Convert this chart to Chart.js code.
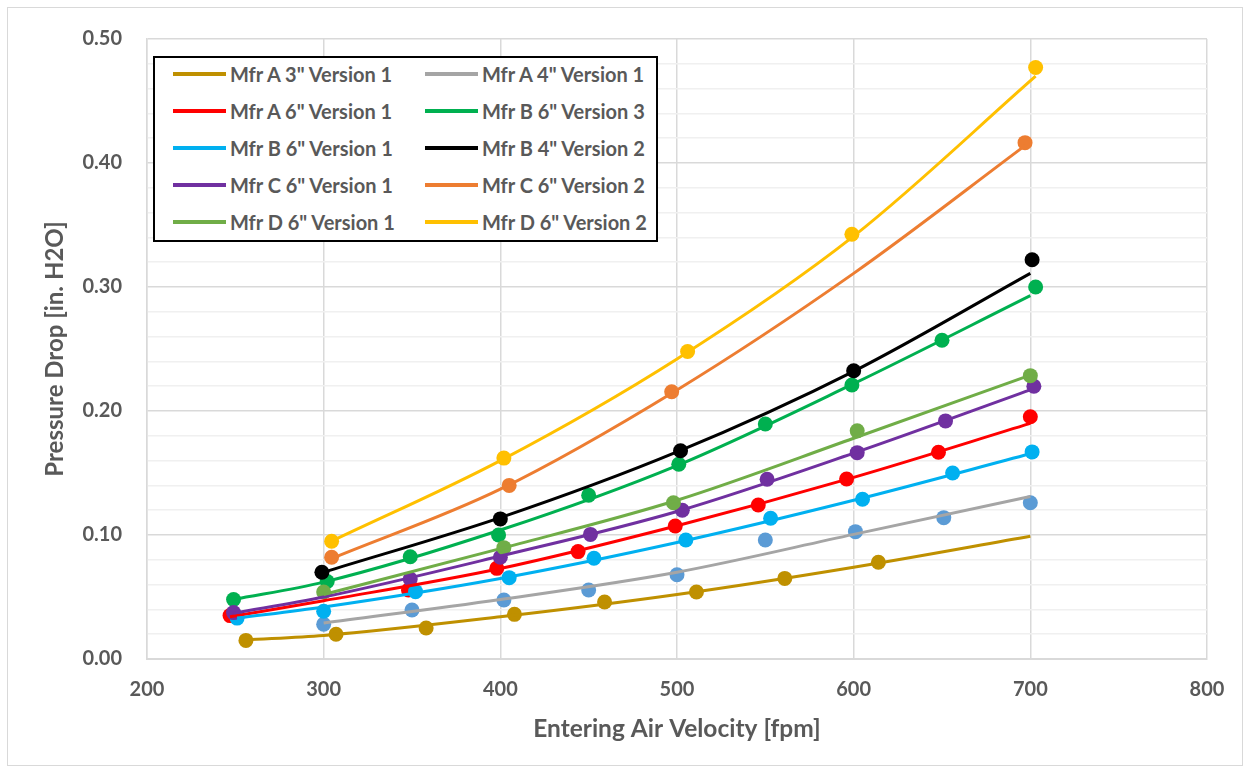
<!DOCTYPE html>
<html>
<head>
<meta charset="utf-8">
<script src="https://cdn.jsdelivr.net/npm/chart.js@4"></script>
<style>
  body { margin: 0; background: #fff; }
  #wrap { position: relative; width: 1250px; height: 773px; }
  #legend {
    position: absolute; left: 153px; top: 56px; width: 501px; height: 182px;
    border: 2px solid #000; background: #fff;
    font-family: Lato, "Open Sans", sans-serif; font-weight: bold; font-size: 20px; color: #595959;
  }
  .item { position: absolute; height: 22px; line-height: 22px; white-space: nowrap; }
  .item span.swatch { position: absolute; left: 0; top: 9px; width: 53px; height: 4px; }
  .item span.label { position: absolute; left: 57px; top: 0; }
</style>
</head>
<body>
<div id="wrap">
  <canvas id="chart" width="1250" height="773"></canvas>
  <div id="legend"></div>
</div>
<script>
const seriesNames = [
  'Mfr A 3" Version 1', 'Mfr A 4" Version 1', 'Mfr A 6" Version 1', 'Mfr B 6" Version 3',
  'Mfr B 6" Version 1', 'Mfr B 4" Version 2', 'Mfr C 6" Version 1', 'Mfr C 6" Version 2',
  'Mfr D 6" Version 1', 'Mfr D 6" Version 2'
];
const lineColors = ['#BF9000', '#A5A5A5', '#FF0000', '#00B050', '#00B0F0', '#000000', '#7030A0', '#ED7D31', '#70AD47', '#FFC000'];
const markerColors = ['#BF9000', '#5B9BD5', '#FF0000', '#00B050', '#00B0F0', '#000000', '#7030A0', '#ED7D31', '#70AD47', '#FFC000'];

// measured points (fpm, in. H2O)
const pointX = [
  [256, 307, 358, 408, 459, 511, 561, 614],
  [300, 350, 402, 450, 500, 550, 601, 651, 700],
  [247, 348, 398, 444, 499, 546, 596, 648, 700],
  [249, 302, 349, 399, 450, 501, 550, 599, 650, 703],
  [251, 300, 352, 405, 453, 505, 553, 605, 656, 701],
  [299, 400, 502, 600, 701],
  [249, 349, 400, 451, 503, 551, 602, 652, 702],
  [304.5, 405, 497, 697],
  [300, 402, 498, 602, 700],
  [304.5, 402, 506, 599, 703]
];
const pointY = [
  [0.015, 0.020, 0.025, 0.036, 0.046, 0.054, 0.065, 0.078],
  [0.028, 0.0395, 0.0476, 0.0556, 0.068, 0.096, 0.1027, 0.114, 0.126],
  [0.035, 0.0556, 0.0731, 0.0866, 0.1073, 0.1242, 0.1452, 0.1667, 0.1954],
  [0.048, 0.0625, 0.0825, 0.100, 0.132, 0.157, 0.1895, 0.221, 0.257, 0.300],
  [0.033, 0.0385, 0.0543, 0.0656, 0.0812, 0.096, 0.1135, 0.1288, 0.150, 0.167],
  [0.070, 0.113, 0.168, 0.2325, 0.322],
  [0.0374, 0.0645, 0.082, 0.1005, 0.120, 0.145, 0.1664, 0.192, 0.220],
  [0.082, 0.140, 0.2155, 0.4164],
  [0.054, 0.0898, 0.126, 0.184, 0.2285],
  [0.095, 0.162, 0.248, 0.3425, 0.477]
];

// trendlines
const trendX = [
  [256, 300, 400, 500, 600, 700],
  [300, 400, 500, 600, 700],
  [247, 300, 400, 500, 600, 700],
  [249, 300, 400, 500, 600, 700],
  [251, 300, 400, 500, 600, 700],
  [300, 400, 500, 600, 700],
  [249, 300, 400, 500, 600, 700],
  [304.5, 400, 500, 600, 697],
  [300, 400, 500, 600, 700],
  [304.5, 400, 500, 600, 703]
];
const trendY = [
  [0.0155, 0.019, 0.034, 0.052, 0.074, 0.099],
  [0.029, 0.048, 0.070, 0.1005, 0.131],
  [0.034, 0.047, 0.073, 0.1075, 0.1465, 0.190],
  [0.048, 0.062, 0.104, 0.156, 0.222, 0.293],
  [0.033, 0.042, 0.065, 0.094, 0.128, 0.1655],
  [0.070, 0.114, 0.167, 0.232, 0.311],
  [0.037, 0.050, 0.083, 0.119, 0.166, 0.217],
  [0.081, 0.137, 0.217, 0.311, 0.414],
  [0.052, 0.089, 0.128, 0.178, 0.229],
  [0.095, 0.160, 0.242, 0.341, 0.470]
];

const xTicks = [200, 300, 400, 500, 600, 700, 800];
const yMajor = [0, 0.1, 0.2, 0.3, 0.4, 0.5];

const TEXT = '#595959';
const FONT = 'Lato, "Open Sans", sans-serif';

function isMajor(v) {
  return yMajor.some(m => Math.abs(m - v) < 1e-6);
}

const datasets = [];
seriesNames.forEach((name, i) => {
  datasets.push({
    label: name + ' data',
    data: pointX[i].map((x, k) => ({ x: x, y: pointY[i][k] })),
    showLine: false,
    pointRadius: 7.5,
    pointHoverRadius: 7.5,
    pointBackgroundColor: markerColors[i],
    pointBorderWidth: 0,
    order: -i
  });
  datasets.push({
    label: name,
    data: trendX[i].map((x, k) => ({ x: x, y: trendY[i][k] })),
    showLine: true,
    borderColor: lineColors[i],
    borderWidth: 3,
    pointRadius: 0,
    cubicInterpolationMode: 'monotone',
    order: -100 - i
  });
});

const frame = {
  id: 'frame',
  beforeDraw(chart) {
    const c = chart.ctx;
    c.save();
    c.fillStyle = '#fff';
    c.fillRect(0, 0, chart.width, chart.height);
    c.strokeStyle = '#d9d9d9';
    c.lineWidth = 1;
    c.strokeRect(7.5, 7.5, 1235, 758);
    c.restore();
  }
};

new Chart(document.getElementById('chart'), {
  type: 'scatter',
  data: { datasets: datasets },
  plugins: [frame],
  options: {
    responsive: false,
    animation: false,
    layout: { padding: { top: 39, right: 43, left: 0, bottom: 0 } },
    plugins: {
      legend: { display: false },
      tooltip: { enabled: false }
    },
    scales: {
      x: {
        type: 'linear',
        min: 200,
        max: 800,
        afterFit: s => { s.height = 114; },
        afterBuildTicks: s => { s.ticks = xTicks.map(v => ({ value: v })); },
        ticks: { color: TEXT, font: { family: FONT, size: 20, weight: 'bold' }, padding: 19, maxRotation: 0 },
        grid: { color: '#d9d9d9', lineWidth: 1.5, drawTicks: false },
        border: { color: '#d9d9d9', width: 2 },
        title: {
          display: true, text: 'Entering Air Velocity [fpm]', color: TEXT,
          font: { family: FONT, size: 24.5, weight: 'bold' }, padding: { top: 0, bottom: 29 }
        }
      },
      y: {
        min: 0,
        max: 0.5,
        afterFit: s => { s.width = 147; },
        ticks: {
          stepSize: 0.02, autoSkip: false, color: TEXT, padding: 25,
          font: { family: FONT, size: 20, weight: 'bold' },
          callback: v => isMajor(v) ? v.toFixed(2) : ''
        },
        grid: {
          drawTicks: false, lineWidth: 1.5,
          color: c => isMajor(c.tick.value) ? '#d9d9d9' : '#f0f0f0'
        },
        border: { color: '#d9d9d9', width: 1.5 },
        title: {
          display: true, text: 'Pressure Drop [in. H2O]', color: TEXT,
          font: { family: FONT, size: 24, weight: 'bold' }, padding: { top: 41, bottom: 0 }
        }
      }
    }
  }
});

// legend, two columns inside the plot
const legend = document.getElementById('legend');
seriesNames.forEach((name, i) => {
  const row = Math.floor(i / 2), col = i % 2;
  const item = document.createElement('div');
  item.className = 'item';
  item.style.left = (col === 0 ? 18 : 270) + 'px';
  item.style.top = (5 + row * 37.1) + 'px';
  item.innerHTML = '<span class="swatch" style="background:' + lineColors[i] + '"></span><span class="label"></span>';
  item.querySelector('.label').textContent = name;
  legend.appendChild(item);
});
</script>
</body>
</html>
